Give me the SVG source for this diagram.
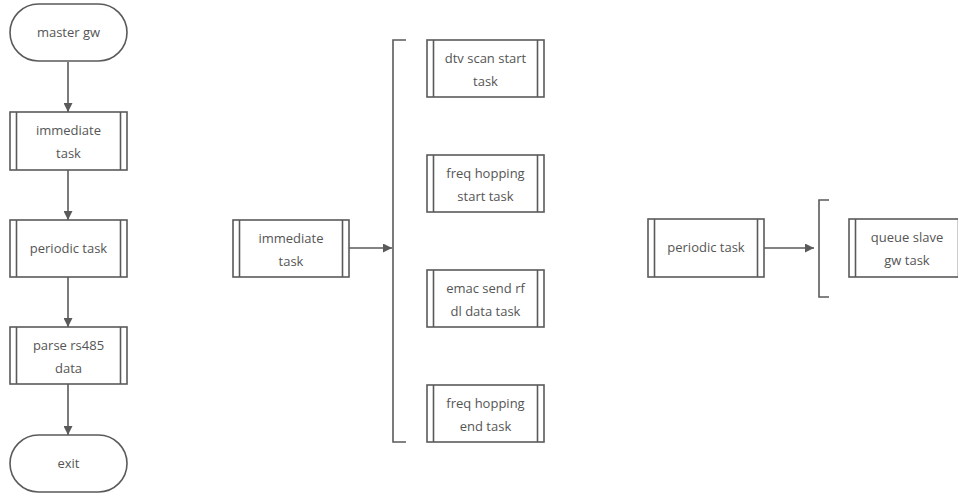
<svg xmlns="http://www.w3.org/2000/svg" width="958" height="495" viewBox="0 0 958 495">
  <defs>
    <style>
      .shape { fill: #ffffff; stroke: #5a5a5a; stroke-width: 1.6; }
      .bar { fill: none; stroke: #5a5a5a; stroke-width: 1.6; }
      .edge { fill: none; stroke: #5a5a5a; stroke-width: 1.6; }
      .label { font-family: "Open Sans", "Noto Sans", sans-serif; font-size: 13px; fill: #555555; text-anchor: middle; }
    </style>
    <marker id="arrow" viewBox="0 0 10 10" refX="10" refY="5" markerWidth="9" markerHeight="9" markerUnits="userSpaceOnUse" orient="auto">
      <path d="M0,0 L10,5 L0,10 Z" fill="#5a5a5a"/>
    </marker>
  </defs>
  <rect width="958" height="495" fill="#ffffff"/>

  <!-- connectors -->
  <g id="connectors">
    <line class="edge" x1="68" y1="62" x2="68" y2="112" marker-end="url(#arrow)"/>
    <line class="edge" x1="68" y1="170" x2="68" y2="220" marker-end="url(#arrow)"/>
    <line class="edge" x1="68" y1="277" x2="68" y2="327" marker-end="url(#arrow)"/>
    <line class="edge" x1="68" y1="384" x2="68" y2="435" marker-end="url(#arrow)"/>
    <line class="edge" x1="349" y1="248" x2="392" y2="248" marker-end="url(#arrow)"/>
    <line class="edge" x1="764" y1="248" x2="814" y2="248" marker-end="url(#arrow)"/>
    <!-- brackets -->
    <polyline class="edge" points="406,40 393,40 393,442 406,442"/>
    <polyline class="edge" points="829,200 819,200 819,297 829,297"/>
  </g>

  <!-- main flow -->
  <g id="master-gw">
    <rect class="shape" x="10" y="4" width="117" height="57" rx="28.5" ry="28.5"/>
    <text class="label" x="68.5" y="37">master gw</text>
  </g>
  <g id="immediate-task-1">
    <rect class="shape" x="10" y="112" width="117" height="58"/>
    <line class="bar" x1="16.5" y1="112" x2="16.5" y2="170"/>
    <line class="bar" x1="120.5" y1="112" x2="120.5" y2="170"/>
    <text class="label" x="68.5" y="135">immediate</text>
    <text class="label" x="68.5" y="158">task</text>
  </g>
  <g id="periodic-task-1">
    <rect class="shape" x="10" y="220" width="117" height="57"/>
    <line class="bar" x1="16.5" y1="220" x2="16.5" y2="277"/>
    <line class="bar" x1="120.5" y1="220" x2="120.5" y2="277"/>
    <text class="label" x="68.5" y="253">periodic task</text>
  </g>
  <g id="parse-rs485">
    <rect class="shape" x="10" y="327" width="117" height="57"/>
    <line class="bar" x1="16.5" y1="327" x2="16.5" y2="384"/>
    <line class="bar" x1="120.5" y1="327" x2="120.5" y2="384"/>
    <text class="label" x="68.5" y="350">parse rs485</text>
    <text class="label" x="68.5" y="373">data</text>
  </g>
  <g id="exit">
    <rect class="shape" x="10" y="435" width="117" height="57" rx="28.5" ry="28.5"/>
    <text class="label" x="68.5" y="468">exit</text>
  </g>

  <!-- immediate task breakdown -->
  <g id="immediate-task-2">
    <rect class="shape" x="233" y="220" width="116" height="57"/>
    <line class="bar" x1="239.5" y1="220" x2="239.5" y2="277"/>
    <line class="bar" x1="342.5" y1="220" x2="342.5" y2="277"/>
    <text class="label" x="291" y="243">immediate</text>
    <text class="label" x="291" y="266">task</text>
  </g>
  <g id="dtv-scan-start">
    <rect class="shape" x="427" y="40" width="117" height="57"/>
    <line class="bar" x1="433.5" y1="40" x2="433.5" y2="97"/>
    <line class="bar" x1="537.5" y1="40" x2="537.5" y2="97"/>
    <text class="label" x="485.5" y="63">dtv scan start</text>
    <text class="label" x="485.5" y="86">task</text>
  </g>
  <g id="freq-hopping-start">
    <rect class="shape" x="427" y="155" width="117" height="57"/>
    <line class="bar" x1="433.5" y1="155" x2="433.5" y2="212"/>
    <line class="bar" x1="537.5" y1="155" x2="537.5" y2="212"/>
    <text class="label" x="485.5" y="178">freq hopping</text>
    <text class="label" x="485.5" y="201">start task</text>
  </g>
  <g id="emac-send-rf">
    <rect class="shape" x="427" y="270" width="117" height="57"/>
    <line class="bar" x1="433.5" y1="270" x2="433.5" y2="327"/>
    <line class="bar" x1="537.5" y1="270" x2="537.5" y2="327"/>
    <text class="label" x="485.5" y="293">emac send rf</text>
    <text class="label" x="485.5" y="316">dl data task</text>
  </g>
  <g id="freq-hopping-end">
    <rect class="shape" x="427" y="385" width="117" height="57"/>
    <line class="bar" x1="433.5" y1="385" x2="433.5" y2="442"/>
    <line class="bar" x1="537.5" y1="385" x2="537.5" y2="442"/>
    <text class="label" x="485.5" y="408">freq hopping</text>
    <text class="label" x="485.5" y="431">end task</text>
  </g>

  <!-- periodic task breakdown -->
  <g id="periodic-task-2">
    <rect class="shape" x="648" y="219" width="116" height="58"/>
    <line class="bar" x1="654.5" y1="219" x2="654.5" y2="277"/>
    <line class="bar" x1="757.5" y1="219" x2="757.5" y2="277"/>
    <text class="label" x="706" y="252">periodic task</text>
  </g>
  <g id="queue-slave-gw">
    <rect class="shape" x="849" y="219" width="116" height="58"/>
    <line class="bar" x1="855.5" y1="219" x2="855.5" y2="277"/>
    <line class="bar" x1="958.5" y1="219" x2="958.5" y2="277"/>
    <text class="label" x="907" y="242">queue slave</text>
    <text class="label" x="907" y="265">gw task</text>
  </g>
</svg>
